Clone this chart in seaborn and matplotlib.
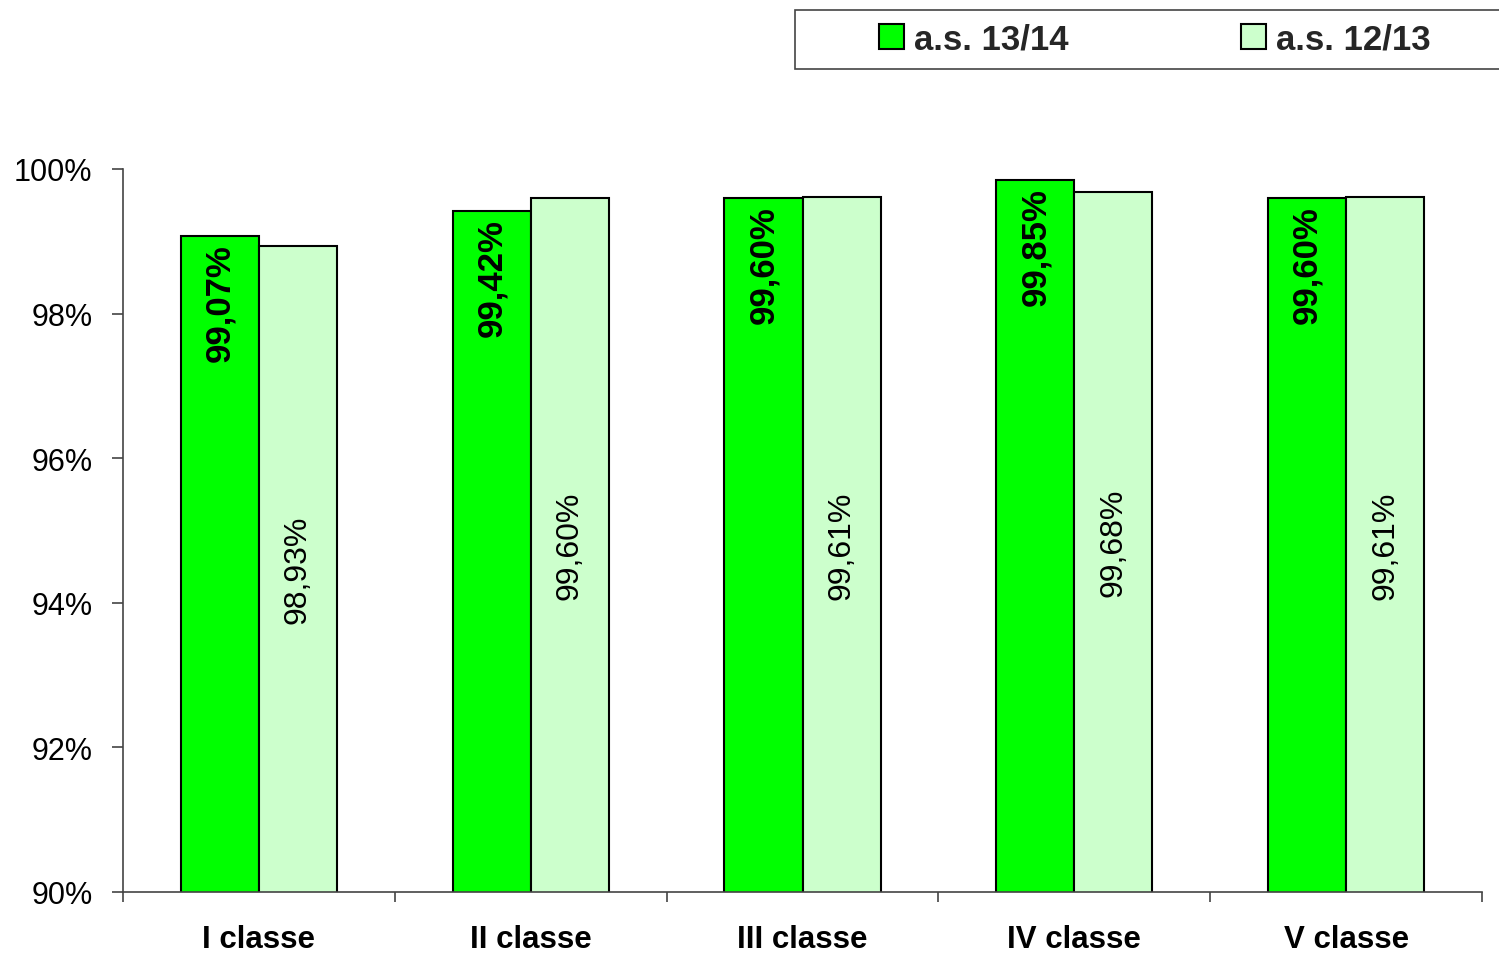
import matplotlib
matplotlib.use("Agg")
import matplotlib.pyplot as plt
import seaborn as sns
import pandas as pd
from matplotlib.patches import Rectangle, Patch
from matplotlib.ticker import FixedLocator, FuncFormatter

categories = ["I classe", "II classe", "III classe", "IV classe", "V classe"]
series_names = ["a.s. 13/14", "a.s. 12/13"]
values_1314 = [99.07, 99.42, 99.60, 99.85, 99.60]
values_1213 = [98.93, 99.60, 99.61, 99.68, 99.61]
label_1314 = ["99,07%", "99,42%", "99,60%", "99,85%", "99,60%"]
label_1213 = ["98,93%", "99,60%", "99,61%", "99,68%", "99,61%"]
colors = ["#00FF00", "#CCFFCC"]

df = pd.DataFrame({
    "classe": categories * 2,
    "serie": [series_names[0]] * 5 + [series_names[1]] * 5,
    "valore": values_1314 + values_1213,
})

sns.set_theme(style="white")
plt.rcParams["font.family"] = ["Liberation Sans", "DejaVu Sans"]

fig = plt.figure(figsize=(14.99, 9.54), dpi=100)
ax = fig.add_axes([123/1499, 1-893/954, (1482-123)/1499, (893-170)/954])

sns.barplot(data=df, x="classe", y="valore", hue="serie", order=categories,
            hue_order=series_names, palette=colors, width=0.574,
            edgecolor="black", linewidth=1.5, ax=ax, legend=False, saturation=1)

ax.set_ylim(90, 100)
ax.set_xlim(-0.5, 4.5)
ax.set_xlabel("")
ax.set_ylabel("")
ax.set_yticks([90, 92, 94, 96, 98, 100])
ax.yaxis.set_major_formatter(FuncFormatter(lambda v, p: f"{int(round(v))}%"))
ax.tick_params(axis="y", direction="out", length=8, width=1.2, color="#444444",
               labelsize=22, pad=14, left=True, labelcolor="black")
ax.xaxis.set_minor_locator(FixedLocator([-0.5, 0.5, 1.5, 2.5, 3.5, 4.5]))
ax.tick_params(axis="x", which="major", length=0, pad=23)
ax.tick_params(axis="x", which="minor", direction="out", length=7, width=1.2,
               color="#444444", bottom=True)
for lbl in ax.get_xticklabels():
    lbl.set_fontsize(22.5)
    lbl.set_fontweight("bold")
    lbl.set_color("black")
for s in ["top", "right"]:
    ax.spines[s].set_visible(False)
for s in ["left", "bottom"]:
    ax.spines[s].set_color("#444444")
    ax.spines[s].set_linewidth(1.2)

# data labels
bars = ax.patches
c1 = bars[:5]
c2 = bars[5:10]
for b, v, t in zip(c1, values_1314, label_1314):
    x = b.get_x() + b.get_width() / 2
    ax.text(x, v - 0.1, t, rotation=90, ha="center", va="top",
            fontsize=25, fontweight="bold", color="black")
for b, v, t in zip(c2, values_1213, label_1213):
    x = b.get_x() + b.get_width() / 2
    ax.text(x, (90 + v) / 2, t, rotation=90, ha="center", va="center",
            fontsize=23, color="black")

# legend box
rect = Rectangle((795/1499, 1-70/954), 720/1499, 59/954, transform=fig.transFigure,
                 facecolor="white", edgecolor="#444444", linewidth=1.2, clip_on=False)
fig.patches.append(rect)
handles = [Patch(facecolor=colors[0], edgecolor="black", linewidth=1.5),
           Patch(facecolor=colors[1], edgecolor="black", linewidth=1.5)]
fig.legend(handles, series_names, loc="center left",
           bbox_to_anchor=(879/1499, 1-40/954), ncol=2, frameon=False,
           prop={"size": 25, "weight": "bold"}, handlelength=0.72,
           handleheight=0.72, handletextpad=0.3, columnspacing=4.95,
           borderaxespad=0, borderpad=0)

fig.savefig("out.png", dpi=100)
